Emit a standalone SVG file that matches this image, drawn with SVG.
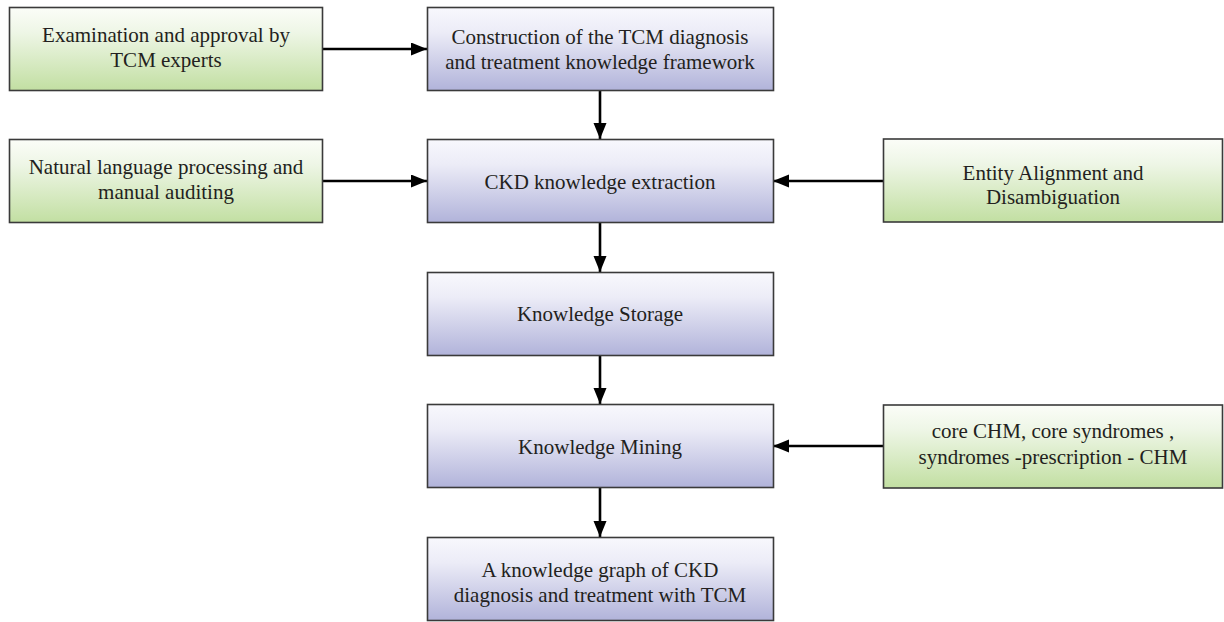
<svg xmlns="http://www.w3.org/2000/svg" width="1224" height="622" viewBox="0 0 1224 622">
<style>
.blue{fill:url(#gBlue);stroke:#3a3a3a;stroke-width:1.6}
.green{fill:url(#gGreen);stroke:#3a3a3a;stroke-width:1.6}
text{font-family:"Liberation Serif","Times New Roman",serif;font-size:21px;fill:#231f20;text-anchor:middle}
.conn{stroke:#000;stroke-width:2.6;fill:none;marker-end:url(#arr)}
</style>
<defs>
<linearGradient id="gBlue" x1="0" y1="0" x2="0" y2="1">
<stop offset="0" stop-color="#f8f8fd"/>
<stop offset="0.3" stop-color="#ececf7"/>
<stop offset="1" stop-color="#b1b3da"/>
</linearGradient>
<linearGradient id="gGreen" x1="0" y1="0" x2="0" y2="1">
<stop offset="0" stop-color="#fbfdf8"/>
<stop offset="0.3" stop-color="#eef6e6"/>
<stop offset="1" stop-color="#c2dfa2"/>
</linearGradient>
<marker id="arr" markerUnits="userSpaceOnUse" markerWidth="17" markerHeight="14" refX="16" refY="6.5" orient="auto">
<path d="M0,0 L16,6.5 L0,13 z" fill="#000"/>
</marker>
</defs>
<g id="connectors">
<line class="conn" x1="323" y1="49" x2="427" y2="49"/>
<line class="conn" x1="600" y1="91" x2="600" y2="139"/>
<line class="conn" x1="323" y1="181" x2="427" y2="181"/>
<line class="conn" x1="883" y1="181" x2="773" y2="181"/>
<line class="conn" x1="600" y1="223" x2="600" y2="272"/>
<line class="conn" x1="600" y1="356" x2="600" y2="404"/>
<line class="conn" x1="883" y1="446" x2="773" y2="446"/>
<line class="conn" x1="600" y1="488" x2="600" y2="537"/>
</g>
<g id="n-experts">
<rect class="green" x="9.5" y="7.5" width="313" height="83"/>
<text x="166" y="42">Examination and approval by</text>
<text x="166" y="67">TCM experts</text>
</g>
<g id="n-framework">
<rect class="blue" x="427.5" y="7.5" width="346" height="83"/>
<text x="600" y="44">Construction of the TCM diagnosis</text>
<text x="600" y="69">and treatment knowledge framework</text>
</g>
<g id="n-nlp">
<rect class="green" x="9.5" y="139.5" width="313" height="83"/>
<text x="166" y="174">Natural language processing and</text>
<text x="166" y="199">manual auditing</text>
</g>
<g id="n-extraction">
<rect class="blue" x="427.5" y="139.5" width="346" height="83"/>
<text x="600" y="189">CKD knowledge extraction</text>
</g>
<g id="n-alignment">
<rect class="green" x="883.5" y="139" width="339" height="83"/>
<text x="1053" y="180">Entity Alignment and</text>
<text x="1053" y="204">Disambiguation</text>
</g>
<g id="n-storage">
<rect class="blue" x="427.5" y="272.5" width="346" height="83"/>
<text x="600" y="321">Knowledge Storage</text>
</g>
<g id="n-mining">
<rect class="blue" x="427.5" y="404.5" width="346" height="83"/>
<text x="600" y="454">Knowledge Mining</text>
</g>
<g id="n-core">
<rect class="green" x="883.5" y="405" width="339" height="83"/>
<text x="1053" y="438">core CHM, core syndromes ,</text>
<text x="1053" y="464">syndromes -prescription - CHM</text>
</g>
<g id="n-graph">
<rect class="blue" x="427.5" y="537.5" width="346" height="83"/>
<text x="600" y="577">A knowledge graph of CKD</text>
<text x="600" y="602">diagnosis and treatment with TCM</text>
</g>
</svg>
